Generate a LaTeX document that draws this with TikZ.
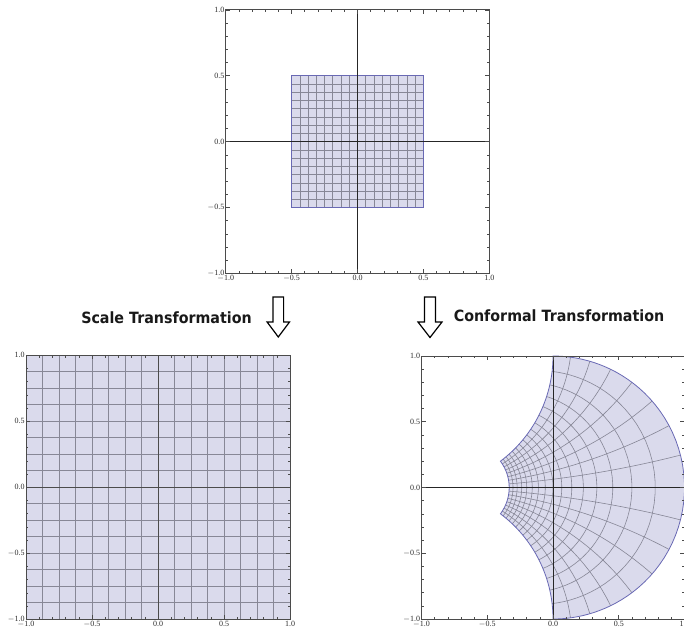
\documentclass[tikz,border=0pt]{standalone}
\usepackage{fontspec}
\newfontfamily\titlefont{DejaVu Sans}
\newfontfamily\tickfont{Liberation Serif}
\definecolor{regfill}{RGB}{218,218,236}
\definecolor{regedge}{RGB}{105,105,180}
\definecolor{meshc}{RGB}{135,135,150}
\definecolor{framec}{RGB}{75,75,75}
\definecolor{tickc}{RGB}{45,45,45}
\tikzset{
  declare function={
    cfx(\a,\b)=(\a-\a*\a-\b*\b)/((1-\a)*(1-\a)+\b*\b);
    cfy(\a,\b)=\b/((1-\a)*(1-\a)+\b*\b);
  },
  framebox/.style={draw=framec,line width=0.8pt},
  tickline/.style={draw=framec,line width=0.6pt},
  axisline/.style={draw=black!85,line width=0.9pt},
  meshline/.style={draw=meshc,line width=0.6pt},
  regionedge/.style={draw=regedge,line width=0.8pt},
  ticklbl/.style={font=\tickfont\fontsize{8}{8}\selectfont,text=tickc,inner sep=1.2pt},
  titlelbl/.style={font=\titlefont\bfseries\fontsize{15.5}{16}\selectfont,text=black!90,inner sep=0pt,xscale=0.92},
  hollowarrow/.style={draw=black,fill=white,line width=1.2pt,line join=miter},
}
\newcommand{\drawplotframe}[1]{%
  \draw[framebox] (-1,-1) rectangle (1,1);
  \foreach \i in {-10,...,10}{%
    \pgfmathsetmacro\v{\i/10}%
    \pgfmathsetmacro\tl{ifthenelse(abs(mod(\i,5))<0.5,0.032,0.018)}%
    \draw[tickline] (\v,-1) -- ++(0,\tl);
    \draw[tickline] (\v,1) -- ++(0,-\tl);
    \draw[tickline] (-1,\v) -- ++(\tl,0);
    \draw[tickline] (1,\v) -- ++(-\tl,0);
  }
  \foreach \v/\t/\n in {-1/$-$1.0/a,-0.5/$-$0.5/b,0/0.0/c,0.5/0.5/d,1/1.0/e}{%
    \node[ticklbl,anchor=east] (#1y\n) at (-1,\v) {\t};
    \node[ticklbl,anchor=north,yshift=-0.6pt] (#1x\n) at (\v,-1) {\t};
  }
}
\begin{document}
\begin{tikzpicture}[x=1pt,y=-1pt]
\useasboundingbox (0,0) rectangle (684,631);

% ---------- top plot ----------
\begin{scope}[shift={(357.5,141.7)},x=131.8pt,y=131.8pt]
  \fill[regfill] (-0.5,-0.5) rectangle (0.5,0.5);
  \foreach \k in {1,...,15}{%
    \pgfmathsetmacro\c{-0.5+\k/16}%
    \draw[meshline] (\c,-0.5) -- (\c,0.5);
    \draw[meshline] (-0.5,\c) -- (0.5,\c);
  }
  \draw[regionedge] (-0.5,-0.5) rectangle (0.5,0.5);
  \draw[axisline] (-1,0) -- (1,0);
  \draw[axisline] (0,-1) -- (0,1);
  \drawplotframe{t}
\end{scope}

% ---------- bottom-left plot ----------
\begin{scope}[shift={(158,487.2)},x=132pt,y=132pt]
  \fill[regfill] (-1,-1) rectangle (1,1);
  \foreach \k in {1,...,15}{%
    \pgfmathsetmacro\c{-1+\k/8}%
    \draw[meshline] (\c,-1) -- (\c,1);
    \draw[meshline] (-1,\c) -- (1,\c);
  }
  \draw[axisline,draw=black!70] (-1,0) -- (1,0);
  \draw[axisline,draw=black!70] (0,-1) -- (0,1);
  \drawplotframe{l}
\end{scope}

% ---------- bottom-right plot ----------
\begin{scope}[shift={(553,487.5)},x=131.5pt,y=131.5pt]
  \fill[regfill]
    plot[domain=-0.5:0.5,samples=50,variable=\t] ({cfx(\t,-0.5)},{cfy(\t,-0.5)})
    -- plot[domain=-0.5:0.5,samples=60,variable=\t] ({cfx(0.5,\t)},{cfy(0.5,\t)})
    -- plot[domain=0.5:-0.5,samples=50,variable=\t] ({cfx(\t,0.5)},{cfy(\t,0.5)})
    -- plot[domain=0.5:-0.5,samples=40,variable=\t] ({cfx(-0.5,\t)},{cfy(-0.5,\t)})
    -- cycle;
  \foreach \k in {1,...,15}{%
    \pgfmathsetmacro\c{-0.5+\k/16}%
    \draw[meshline] plot[domain=-0.5:0.5,samples=40,variable=\t] ({cfx(\t,\c)},{cfy(\t,\c)});
    \draw[meshline] plot[domain=-0.5:0.5,samples=40,variable=\t] ({cfx(\c,\t)},{cfy(\c,\t)});
  }
  \draw[regionedge]
    plot[domain=-0.5:0.5,samples=50,variable=\t] ({cfx(\t,-0.5)},{cfy(\t,-0.5)})
    -- plot[domain=-0.5:0.5,samples=60,variable=\t] ({cfx(0.5,\t)},{cfy(0.5,\t)})
    -- plot[domain=0.5:-0.5,samples=50,variable=\t] ({cfx(\t,0.5)},{cfy(\t,0.5)})
    -- plot[domain=0.5:-0.5,samples=40,variable=\t] ({cfx(-0.5,\t)},{cfy(-0.5,\t)})
    -- cycle;
  \draw[axisline] (-1,0) -- (1,0);
  \draw[axisline] (0,-1) -- (0,1);
  \drawplotframe{r}
\end{scope}

% ---------- titles and arrows ----------
\node[titlelbl,anchor=base] (scaletitle) at (166.5,323.3) {Scale Transformation};
\node[titlelbl,anchor=base] (conftitle) at (559,321.7) {Conformal Transformation};

\draw[hollowarrow] (273,297) -- (283.6,297) -- (283.6,322) -- (289.5,322)
  -- (278.3,337) -- (267.1,322) -- (273,322) -- cycle;
\draw[hollowarrow] (424.5,297) -- (435.5,297) -- (435.5,322) -- (442,322)
  -- (430,337.5) -- (418,322) -- (424.5,322) -- cycle;
\end{tikzpicture}
\end{document}
